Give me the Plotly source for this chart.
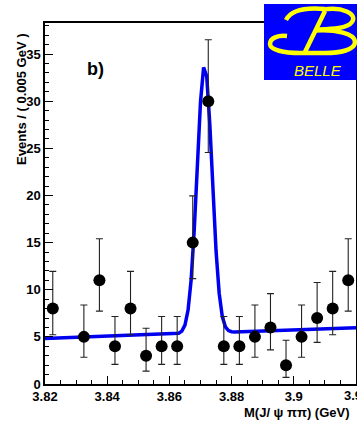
import plotly.graph_objects as go

# ---- data ----
bin_centers = [3.8225, 3.8325, 3.8375, 3.8425, 3.8475, 3.8525, 3.8575, 3.8625, 3.8675,
               3.8725, 3.8775, 3.8825, 3.8875, 3.8925, 3.8975, 3.9025, 3.9075, 3.9125, 3.9175]
counts = [8, 5, 11, 4, 8, 3, 4, 4, 15, 30, 4, 4, 5, 6, 2, 5, 7, 8, 11]
err_up = [3.945, 3.382, 4.416, 3.162, 3.945, 2.918, 3.162, 3.162, 4.958, 6.522,
          3.162, 3.162, 3.382, 3.583, 2.638, 3.382, 3.770, 3.945, 4.416]
err_down = [2.768, 2.159, 3.266, 1.914, 2.768, 1.633, 1.914, 1.914, 3.825, 5.446,
            1.914, 1.914, 2.159, 2.379, 1.292, 2.159, 2.580, 2.768, 3.266]

fit_x = [3.820, 3.862, 3.863, 3.864, 3.865, 3.866, 3.867, 3.868, 3.869, 3.870, 3.871,
         3.872, 3.873, 3.874, 3.875, 3.876, 3.877, 3.878, 3.879, 3.880, 3.881, 3.920]
fit_y = [4.84, 5.33, 5.39, 5.61, 6.25, 7.84, 11.08, 16.42, 23.33, 29.92, 33.59,
         32.64, 27.53, 20.53, 14.11, 9.64, 7.17, 6.07, 5.67, 5.55, 5.53, 5.96]

x_tickvals = [3.82, 3.84, 3.86, 3.88, 3.90]
x_ticktext = ["3.82", "3.84", "3.86", "3.88", "3.9"]
x_edge_tick = 3.92
x_edge_text = "3.92"
y_tickvals = [0, 5, 10, 15, 20, 25, 30, 35]
y_ticktext = ["0", "5", "10", "15", "20", "25", "30", "35"]

# ---- layout geometry ----
W, H = 357, 424
ML, MR, MT, MB = 45, 1, 23, 40
PW, PH = W - ML - MR, H - MT - MB


def px(X):
    return (X - ML) / PW


def py(Y):
    return (H - MB - Y) / PH


BOLD = dict(family="Liberation Sans, Arial, sans-serif", color="black", weight="bold")

fig = go.Figure()
fig.add_trace(go.Scatter(x=fit_x, y=fit_y, mode="lines",
                         line=dict(color="#0000f0", width=3.5), hoverinfo="skip"))
fig.add_trace(go.Scatter(
    x=bin_centers, y=counts, mode="markers",
    marker=dict(color="black", size=12),
    error_y=dict(type="data", symmetric=False, array=err_up, arrayminus=err_down,
                 color="#222222", thickness=1.1, width=3.5)))

axis_common = dict(showline=True, linecolor="black", linewidth=1.5, mirror=True,
                   ticks="inside", ticklen=8, tickwidth=1, tickcolor="black",
                   showgrid=False, zeroline=False, automargin=False,
                   tickfont=dict(size=13, **BOLD))

fig.update_xaxes(range=[3.82, 3.92], tickmode="array", tickvals=x_tickvals,
                 ticktext=x_ticktext,
                 minor=dict(dtick=0.005, tick0=3.82, ticks="inside", ticklen=4,
                            tickcolor="black", tickwidth=1),
                 **axis_common)
fig.update_yaxes(range=[0, 38.3], tickmode="array", tickvals=y_tickvals,
                 ticktext=y_ticktext,
                 minor=dict(dtick=1, tick0=0, ticks="inside", ticklen=4,
                            tickcolor="black", tickwidth=1),
                 **axis_common)

shapes = []
# Belle logo background
shapes.append(dict(type="rect", xref="paper", yref="paper", layer="above",
                   x0=px(264), x1=px(357), y0=py(80), y1=py(4),
                   fillcolor="#0000ff", line=dict(width=0)))


def path(points_cmds):
    out = []
    for cmd, pts in points_cmds:
        coords = " ".join(f"{px(a):.4f},{py(b):.4f}" for a, b in pts)
        out.append(f"{cmd} {coords}")
    return " ".join(out)


yellow = "#ffff00"
logo_paths = [
    # top serif arc
    [("M", [(286, 20)]), ("Q", [(293, 6), (325, 9)])],
    # upper loop
    [("M", [(322, 10)]), ("C", [(342, 6), (358, 14), (352, 22)]),
     ("C", [(347, 29), (330, 29), (316, 29.5)])],
    # stem
    [("M", [(325, 11)]), ("L", [(305, 52)])],
    # lower loop
    [("M", [(315, 30.5)]), ("C", [(336, 29), (355, 34), (355, 42)]),
     ("C", [(355, 50), (340, 53), (325, 53)]), ("L", [(300, 53)]),
     ("C", [(284, 53), (270, 50), (270, 44)]), ("C", [(270, 38), (278, 35), (287, 36)])],
]
for p in logo_paths:
    shapes.append(dict(type="path", xref="paper", yref="paper", layer="above",
                       path=path(p), line=dict(color=yellow, width=4.5)))

annotations = [
    dict(text="Events / ( 0.005 GeV )", xref="paper", yref="paper",
         x=px(21.5), y=py(99.5), xanchor="center", yanchor="middle",
         textangle=-90, showarrow=False, font=dict(size=13, **BOLD)),
    dict(text="M(J/ ψ ππ) (GeV)", xref="paper", yref="paper",
         x=px(352), y=py(412.5), xanchor="right", yanchor="middle",
         showarrow=False, font=dict(size=13, **BOLD)),
    dict(text="b)", xref="paper", yref="paper", x=px(95.5), y=py(68.5),
         xanchor="center", yanchor="middle", showarrow=False,
         font=dict(size=18, **BOLD)),
    dict(text="<i>BELLE</i>", xref="paper", yref="paper", x=px(318), y=py(70.5),
         xanchor="center", yanchor="middle", showarrow=False,
         font=dict(size=15, family="Liberation Sans, Arial, sans-serif", color=yellow)),
    # edge tick label, partly cut off by the figure border as in the reference
    dict(text=x_edge_text, xref="x", yref="paper", x=x_edge_tick, y=py(396),
         xanchor="center", yanchor="middle", showarrow=False,
         font=dict(size=13, **BOLD)),
]

fig.update_layout(width=W, height=H, margin=dict(l=ML, r=MR, t=MT, b=MB, pad=0),
                  paper_bgcolor="white", plot_bgcolor="white", showlegend=False,
                  shapes=shapes, annotations=annotations)

fig.write_html("out.html")
